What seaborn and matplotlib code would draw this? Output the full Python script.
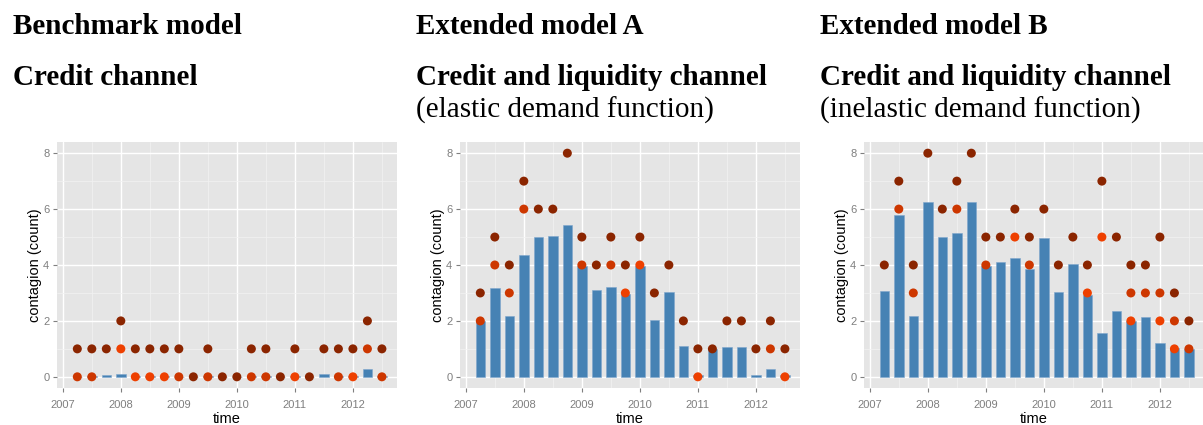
import numpy as np
import pandas as pd
import seaborn as sns
import matplotlib.pyplot as plt

quarters = [2007.25, 2007.5, 2007.75, 2008.0, 2008.25, 2008.5, 2008.75, 2009.0,
            2009.25, 2009.5, 2009.75, 2010.0, 2010.25, 2010.5, 2010.75, 2011.0,
            2011.25, 2011.5, 2011.75, 2012.0, 2012.25, 2012.5]

# benchmark model
bench_bars = [0.0, 0.03, 0.08, 0.1, 0.03, 0.03, 0.04, 0.0, 0.0, 0.03, 0.0,
              0.0, 0.03, 0.03, 0.0, 0.04, 0.0, 0.1, 0.02, 0.02, 0.28, 0.02]
bench_dark = [1, 1, 1, 2, 1, 1, 1, 1, 0, 1, 0, 0, 1, 1, 0, 1, 0, 1, 1, 1, 2, 1]
bench_mid = [0, 0, None, None, None, None, None, 0, None, 0, None,
             None, 0, 0, None, None, None, None, 0, None, 1, 0]
bench_bright = [None, None, None, 1, 0, 0, 0, None, None, None, None,
                None, None, None, None, 0, None, None, None, 0, None, None]

# extended model A
a_bars = [2.0, 3.17, 2.17, 4.37, 5.0, 5.04, 5.44, 3.98, 3.1, 3.21, 2.97,
          3.95, 2.05, 3.05, 1.11, 0.08, 1.0, 1.07, 1.07, 0.08, 0.29, 0.05]
a_dark = [3, 5, 4, 7, 6, 6, 8, 5, 4, 5, 4, 5, 3, 4, 2, 1, 1, 2, 2, 1, 2, 1]
a_mid = [2, 4, 3, 6, None, None, None, 4, None, 4, None,
         None, None, None, None, None, None, None, None, None, 1, None]
a_bright = [None, None, None, None, None, None, None, None, None, None, 3,
            4, None, None, None, 0, None, None, None, None, None, 0]

# extended model B
b_bars = [3.06, 5.79, 2.17, 6.24, 5.0, 5.15, 6.26, 3.95, 4.1, 4.24, 3.86,
          4.95, 3.02, 4.02, 2.93, 1.56, 2.36, 1.98, 2.13, 1.21, 1.04, 0.98]
b_dark = [4, 7, 4, 8, 6, 7, 8, 5, 5, 6, 5, 6, 4, 5, 4, 7, 5, 4, 4, 5, 3, 2]
b_mid = [None, 6, 3, None, None, 6, None, 4, None, None, 4,
         None, None, None, None, None, None, 3, 3, 3, 2, 1]
b_bright = [None, None, None, None, None, None, None, None, None, 5, None,
            None, None, None, 3, 5, None, 2, None, 2, 1, None]

year_ticks = [2007, 2008, 2009, 2010, 2011, 2012]
count_ticks = [0, 2, 4, 6, 8]

titles = [("Benchmark model", "Credit channel", None),
          ("Extended model A", "Credit and liquidity channel", "(elastic demand function)"),
          ("Extended model B", "Credit and liquidity channel", "(inelastic demand function)")]

panels = [(bench_bars, bench_dark, bench_mid, bench_bright),
          (a_bars, a_dark, a_mid, a_bright),
          (b_bars, b_dark, b_mid, b_bright)]

shade_colors = {"bright": "#EE4000", "mid": "#CD3700", "dark": "#8B2500"}

sns.set_theme(style="darkgrid", rc={"axes.facecolor": "#E5E5E5",
                                    "text.color": "black",
                                    "axes.labelcolor": "black"})
plt.rcParams["font.family"] = ["Liberation Sans", "DejaVu Sans"]

W, H = 1203, 425
fig = plt.figure(figsize=(W / 100, H / 100), dpi=100)

ax_left = [57, 460, 864]
title_x = [13, 416, 820]

for i, (bars, dark, mid, bright) in enumerate(panels):
    ax = fig.add_axes([ax_left[i] / W, 1 - 388 / H, 340 / W, 246 / H])
    bar_df = pd.DataFrame({"time": quarters, "count": bars})
    sns.barplot(data=bar_df, x="time", y="count", native_scale=True, width=0.65,
                color="#4682B4", saturation=1, errorbar=None, ax=ax,
                edgecolor="#7FA6CC", linewidth=0.4)

    rows = []
    for name, vals in [("bright", bright), ("mid", mid), ("dark", dark)]:
        for t, v in zip(quarters, vals):
            if v is not None:
                rows.append({"time": t, "count": v, "shade": name})
    pt_df = pd.DataFrame(rows)
    sns.scatterplot(data=pt_df, x="time", y="count", hue="shade",
                    palette=shade_colors, s=42, linewidth=0, legend=False, ax=ax)

    ax.set_xlim(2006.9, 2012.76)
    ax.set_ylim(-0.4, 8.4)
    ax.set_xticks(year_ticks)
    ax.set_xticklabels([str(y) for y in year_ticks])
    ax.set_yticks(count_ticks)
    ax.set_xticks([y + 0.5 for y in year_ticks], minor=True)
    ax.set_yticks([1, 3, 5, 7], minor=True)
    ax.grid(which="major", color="white", linewidth=1.0)
    ax.grid(which="minor", color="#F2F2F2", linewidth=0.5)
    ax.set_axisbelow(True)
    for s in ax.spines.values():
        s.set_visible(False)
    ax.tick_params(which="major", bottom=True, left=True, length=3, width=0.8,
                   color="#7F7F7F", labelcolor="#7F7F7F", labelsize=8)
    ax.tick_params(axis="x", which="major", pad=6)
    ax.tick_params(axis="y", which="major", pad=2.5)
    ax.tick_params(which="minor", bottom=False, left=False)
    ax.set_xlabel("time", fontsize=10.5, color="black", labelpad=1)
    ax.set_ylabel("contagion (count)", fontsize=10.5, color="black", labelpad=1)

    t1, t2, t3 = titles[i]
    fig.text(title_x[i] / W, 1 - 34 / H, t1, family="Liberation Serif",
             fontweight="bold", fontsize=21, va="baseline", color="black")
    fig.text(title_x[i] / W, 1 - 85 / H, t2, family="Liberation Serif",
             fontweight="bold", fontsize=21, va="baseline", color="black")
    if t3:
        fig.text(title_x[i] / W, 1 - 118 / H, t3, family="Liberation Serif",
                 fontsize=21, va="baseline", color="black")

fig.savefig("out.png", dpi=100)
